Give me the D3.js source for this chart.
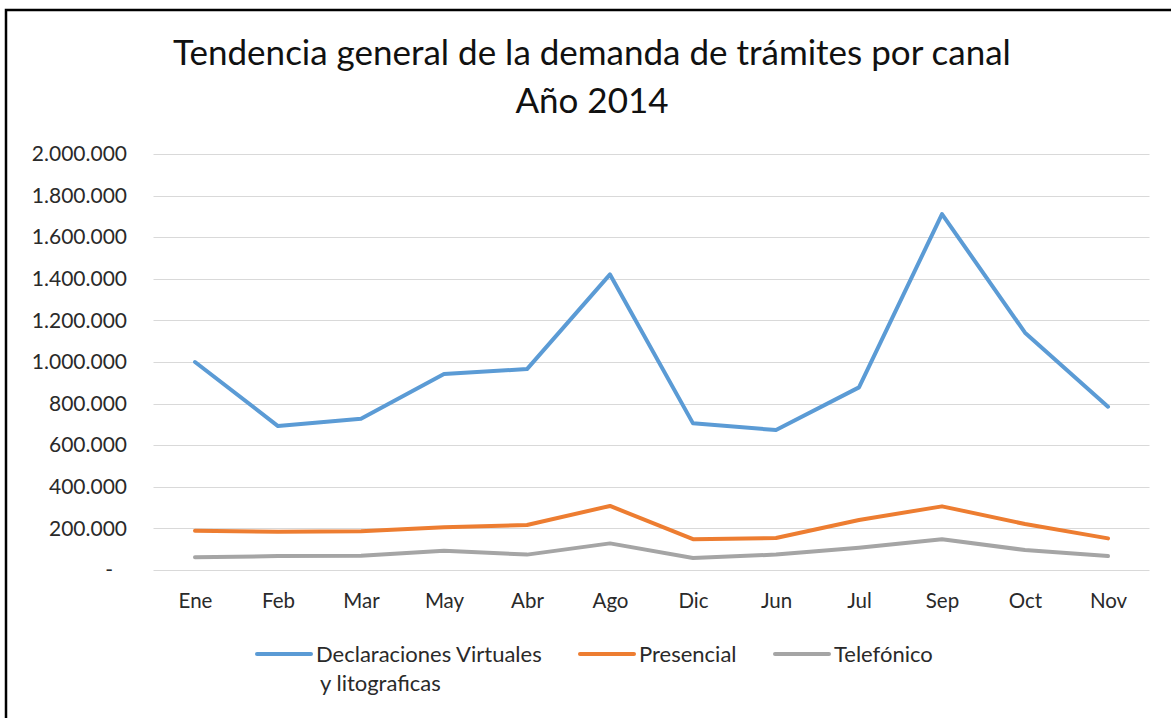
<!DOCTYPE html>
<html>
<head>
<meta charset="utf-8">
<script src="https://cdn.jsdelivr.net/npm/d3@7"></script>
<style>
  body { margin: 0; background: #fff; }
  svg { display: block; font-family: Lato, "Open Sans", sans-serif; }
</style>
</head>
<body>
<svg id="chart" width="1171" height="718"></svg>
<script>
"use strict";

// categories (in the order shown on the chart)
const months = ['Ene', 'Feb', 'Mar', 'May', 'Abr', 'Ago', 'Dic', 'Jun', 'Jul', 'Sep', 'Oct', 'Nov'];

// series values
const virtuales = [1000000, 692000, 727000, 942000, 966000, 1421000, 705000, 673000, 878000, 1711000, 1141000, 785000];
const presencial = [189000, 184000, 186000, 205000, 216000, 308000, 148000, 154000, 240000, 306000, 221000, 152000];
const telefonico = [61000, 67000, 69000, 93000, 74000, 128000, 58000, 74000, 107000, 148000, 96000, 67000];

const yTicks = [0, 200000, 400000, 600000, 800000, 1000000, 1200000, 1400000, 1600000, 1800000, 2000000];

const seriesNames = ['Declaraciones Virtuales|y litograficas', 'Presencial', 'Telefónico'];
const seriesColors = ['#5B9BD5', '#ED7D31', '#A5A5A5'];

const svg = d3.select('#chart');
const W = 1171, H = 718;
const textColor = '#2a2a2a';

// frame (only top and left edges show in the crop)
svg.append('rect')
  .attr('x', 6).attr('y', 10)
  .attr('width', W + 20).attr('height', H + 20)
  .attr('fill', '#fff')
  .attr('stroke', '#000')
  .attr('stroke-width', 2.5);

// title
const title = svg.append('text')
  .attr('text-anchor', 'middle')
  .attr('font-size', 35)
  .attr('fill', '#111');
title.append('tspan').attr('x', 592).attr('y', 65).text('Tendencia general de la demanda de trámites por canal');
title.append('tspan').attr('x', 592).attr('y', 113).text('Año 2014');

const plot = { left: 153.5, right: 1149.5, top: 154, bottom: 570 };

const x = d3.scalePoint()
  .domain(months)
  .range([plot.left, plot.right])
  .padding(0.5);

const y = d3.scaleLinear()
  .domain([0, 2000000])
  .range([plot.bottom, plot.top]);

const numFmt = d3.formatLocale({ decimal: ',', thousands: '.', grouping: [3], currency: ['', ''] }).format(',d');

// gridlines
svg.append('g')
  .selectAll('line')
  .data(yTicks)
  .enter()
  .append('line')
  .attr('x1', plot.left)
  .attr('x2', plot.right)
  .attr('y1', (d) => Math.round(y(d)) + 0.5)
  .attr('y2', (d) => Math.round(y(d)) + 0.5)
  .attr('stroke', '#D9D9D9')
  .attr('stroke-width', 1);

// y axis labels
const yAxis = d3.axisLeft(y)
  .tickValues(yTicks)
  .tickSize(0)
  .tickPadding(0)
  .tickFormat((d) => d === 0 ? '-' : numFmt(d));

const yg = svg.append('g')
  .attr('transform', 'translate(127,0)')
  .call(yAxis);
yg.select('.domain').remove();
yg.selectAll('text')
  .attr('font-family', 'Lato, "Open Sans", sans-serif')
  .attr('font-size', 21)
  .attr('fill', textColor)
  .attr('x', (d) => d === 0 ? -14 : 0);

// x axis labels
const xAxis = d3.axisBottom(x).tickSize(0).tickPadding(0);
const xg = svg.append('g')
  .attr('transform', 'translate(0,' + plot.bottom + ')')
  .call(xAxis);
xg.select('.domain').remove();
xg.selectAll('text')
  .attr('font-family', 'Lato, "Open Sans", sans-serif')
  .attr('font-size', 20.5)
  .attr('fill', textColor)
  .attr('dy', 0)
  .attr('y', 38);

// lines
const line = d3.line()
  .x((d, i) => x(months[i]))
  .y((d) => y(d));

[virtuales, presencial, telefonico].forEach((values, i) => {
  svg.append('path')
    .datum(values)
    .attr('fill', 'none')
    .attr('stroke', seriesColors[i])
    .attr('stroke-width', 4)
    .attr('stroke-linejoin', 'round')
    .attr('stroke-linecap', 'round')
    .attr('d', line);
});

// legend
const legendX = [257, 580, 775];
const legend = svg.append('g');
seriesNames.forEach((name, i) => {
  const g = legend.append('g').attr('transform', 'translate(' + legendX[i] + ',654)');
  g.append('line')
    .attr('x1', 0).attr('x2', 54)
    .attr('y1', 0).attr('y2', 0)
    .attr('stroke', seriesColors[i])
    .attr('stroke-width', 4)
    .attr('stroke-linecap', 'round');
  const parts = name.split('|');
  const t = g.append('text')
    .attr('font-size', 22)
    .attr('fill', textColor);
  t.append('tspan').attr('x', 59).attr('y', 8).text(parts[0]);
  if (parts[1]) {
    t.append('tspan').attr('x', 63).attr('y', 37).text(parts[1]);
  }
});
</script>
</body>
</html>
